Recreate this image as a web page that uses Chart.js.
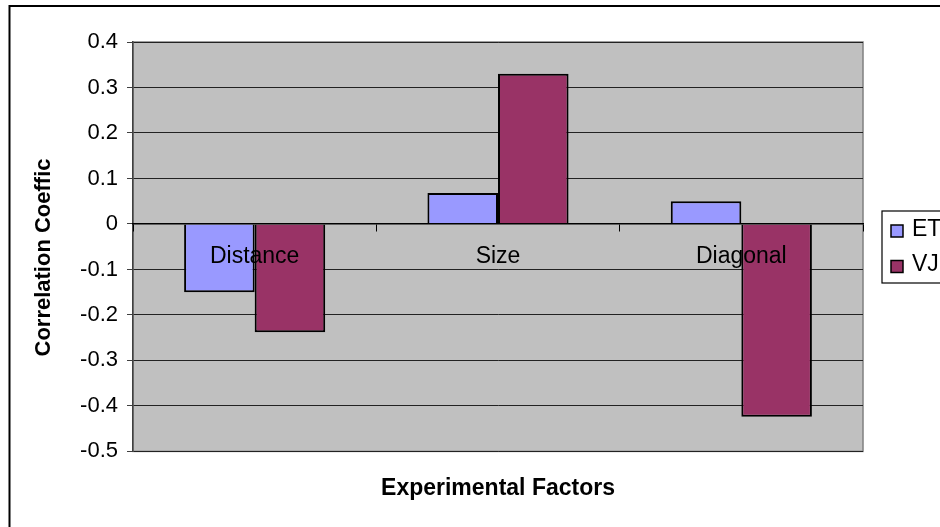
<!DOCTYPE html>
<html>
<head>
<meta charset="utf-8">
<title>Correlation by experimental factor</title>
<script src="https://cdn.jsdelivr.net/npm/chart.js@4/dist/chart.umd.min.js"></script>
<style>
  html, body { margin: 0; padding: 0; background: #fff; overflow: hidden; }
  #wrap { width: 940px; height: 527px; position: relative; }
</style>
</head>
<body>
<div id="wrap"><canvas id="chart" width="940" height="527"></canvas></div>
<script>
// Categories, series and axis ticks
const factors = ['Distance', 'Size', 'Diagonal'];
const etValues = [-0.15, 0.068, 0.05];
const vjValues = [-0.238, 0.33, -0.424];
const yTicks = [0.4, 0.3, 0.2, 0.1, 0, -0.1, -0.2, -0.3, -0.4, -0.5];
const seriesNames = ['ET', 'VJ'];
const yTitle = 'Correlation Coeffic';
const xTitle = 'Experimental Factors';

const FONT = '"Liberation Sans", Arial, sans-serif';

// Grey plot background, plot frame, outer frame, y title and legend
const decor = {
  id: 'decor',
  beforeDraw(chart) {
    const { ctx, chartArea: a } = chart;
    ctx.save();
    ctx.fillStyle = '#fff';
    ctx.fillRect(0, 0, chart.width, chart.height);
    ctx.fillStyle = '#c0c0c0';
    ctx.fillRect(a.left, a.top, a.right - a.left, a.bottom - a.top);
    ctx.strokeStyle = '#808080';
    ctx.lineWidth = 1.5;
    ctx.strokeRect(a.left, a.top, a.right - a.left, a.bottom - a.top);
    ctx.restore();
  },
  afterDraw(chart) {
    const { ctx } = chart;
    ctx.save();
    // outer frame, running past the right and bottom edges
    ctx.strokeStyle = '#000';
    ctx.lineWidth = 2;
    ctx.strokeRect(9.5, 6, 1000, 1000);

    // vertical axis title
    ctx.fillStyle = '#000';
    ctx.font = 'bold 22px ' + FONT;
    ctx.textAlign = 'center';
    ctx.textBaseline = 'middle';
    ctx.translate(44, 257.5);
    ctx.rotate(-Math.PI / 2);
    ctx.fillText(yTitle, 0, 0);
    ctx.restore();

    // legend box
    ctx.save();
    ctx.fillStyle = '#fff';
    ctx.fillRect(882, 211, 80, 72);
    ctx.strokeStyle = '#000';
    ctx.lineWidth = 1.2;
    ctx.strokeRect(882, 211, 80, 72);
    ctx.font = '23px ' + FONT;
    ctx.textAlign = 'left';
    ctx.textBaseline = 'middle';
    const rows = [231, 266.5];
    chart.data.datasets.forEach((ds, i) => {
      const cy = rows[i];
      ctx.fillStyle = ds.backgroundColor;
      ctx.fillRect(891, cy - 6, 12, 12);
      ctx.strokeStyle = '#000';
      ctx.lineWidth = 1.5;
      ctx.strokeRect(891, cy - 6, 12, 12);
      ctx.fillStyle = '#000';
      ctx.fillText(ds.label, 912, cy - 1.5);
    });
    ctx.restore();
  }
};

new Chart(document.getElementById('chart'), {
  type: 'bar',
  data: {
    labels: factors,
    datasets: [
      { label: seriesNames[0], data: etValues, backgroundColor: '#9999ff', borderColor: '#000', borderWidth: 2 },
      { label: seriesNames[1], data: vjValues, backgroundColor: '#993366', borderColor: '#000', borderWidth: 2 }
    ]
  },
  options: {
    responsive: false,
    animation: false,
    devicePixelRatio: 1,
    layout: { padding: { left: 0, top: 42, right: 77, bottom: 0 } },
    datasets: { bar: { categoryPercentage: 0.58, barPercentage: 1.0 } },
    plugins: {
      legend: { display: false },
      tooltip: { enabled: false },
      title: {
        display: true,
        text: xTitle,
        position: 'bottom',
        fullSize: false,
        color: '#000',
        font: { family: FONT, size: 23, weight: 'bold' },
        padding: { top: 23, bottom: 25 }
      }
    },
    scales: {
      x: {
        type: 'category',
        axis: 'x',
        position: { y: 0 },
        grid: { display: true, z: 1, drawOnChartArea: false, drawTicks: true, tickLength: 7, offset: true, color: '#000', lineWidth: 1 },
        border: { display: true, z: 1, color: '#000', width: 1.5 },
        ticks: { z: 1, color: '#000', font: { family: FONT, size: 23 }, padding: 12, maxRotation: 0, autoSkip: false }
      },
      y: {
        min: -0.5,
        max: 0.4,
        afterFit(scale) { scale.width = 133; },
        afterBuildTicks(scale) { scale.ticks = yTicks.map(v => ({ value: v })); },
        grid: { color: '#222', lineWidth: 1, tickLength: 6, drawTicks: true, tickColor: '#404040' },
        border: { display: true, color: '#404040', width: 1.5 },
        ticks: {
          color: '#000',
          padding: 9,
          font: { family: FONT, size: 22 },
          callback: v => String(Math.round(v * 10) / 10)
        }
      }
    }
  },
  plugins: [decor]
});
</script>
</body>
</html>
